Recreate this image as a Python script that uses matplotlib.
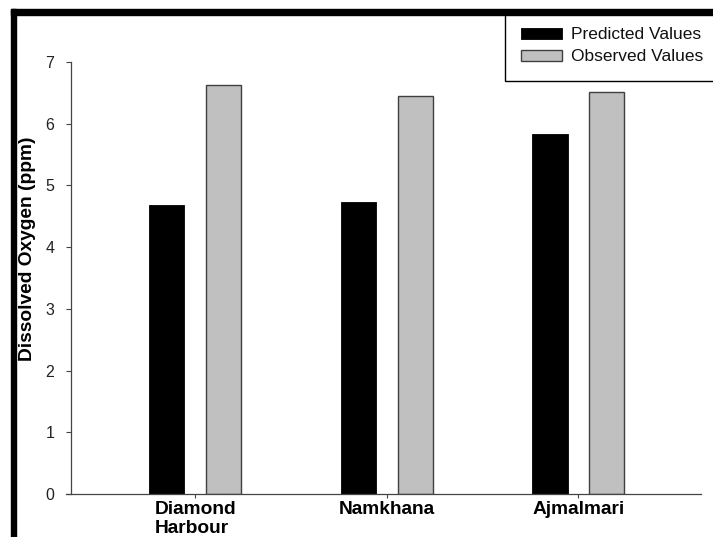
import matplotlib
matplotlib.use("Agg")
import matplotlib.pyplot as plt
from matplotlib.patches import Rectangle
import numpy as np

plt.rcParams['font.family'] = ['Liberation Sans', 'DejaVu Sans']

categories = ["Diamond\nHarbour", "Namkhana", "Ajmalmari"]
predicted = [4.68, 4.73, 5.83]
observed = [6.63, 6.45, 6.52]
series_names = ["Predicted Values", "Observed Values"]
yticks = [0, 1, 2, 3, 4, 5, 6, 7]

W, H = 713, 537
fig = plt.figure(figsize=(W / 100, H / 100), dpi=100)
ax = fig.add_axes([71 / W, 1 - 494 / H, 630 / W, 432 / H])

x = np.arange(len(categories))
bw = 0.183
off = 0.148
b1 = ax.bar(x - off, predicted, bw, color='black', edgecolor='black', linewidth=0.6,
            label=series_names[0])
b2 = ax.bar(x + off, observed, bw, color='#c0c0c0', edgecolor='#404040', linewidth=1.0,
            label=series_names[1])

ax.set_xlim(-0.648, 2.64)
ax.set_ylim(0, 7)
ax.set_yticks(yticks)
ax.set_yticklabels([str(t) for t in yticks], fontsize=11.5, color='#222222')
ax.set_xticks(x)
ax.set_xticklabels(categories, fontsize=13.8, fontweight='bold', linespacing=1.12,
                   multialignment='left')
ax.tick_params(axis='y', direction='out', length=3.6, width=0.8, color='#444444', pad=8.5)
ax.tick_params(axis='x', direction='out', length=3.0, width=0.8, color='#444444', pad=2)
for s in ['top', 'right']:
    ax.spines[s].set_visible(False)
for s in ['left', 'bottom']:
    ax.spines[s].set_color('#444444')
    ax.spines[s].set_linewidth(0.9)
ax.spines['bottom'].set_bounds(-0.648 - 5 / 191.6, 2.64)
ax.set_ylabel("Dissolved Oxygen (ppm)", fontsize=13.8, fontweight='bold')
ax.yaxis.set_label_coords((36 - 71) / 630, (494 - 249) / 432)

# outer black frame lines (top and left)
fig.patches.append(Rectangle((11 / W, 0), 5 / W, 1 - 9 / H, transform=fig.transFigure,
                             color='black', zorder=10))
fig.patches.append(Rectangle((11 / W, 1 - 15 / H), 1 - 11 / W, 6 / H, transform=fig.transFigure,
                             color='black', zorder=10))

leg = fig.legend(handles=[b1, b2], labels=series_names, loc='upper left',
                 bbox_to_anchor=(505 / W, 1 - 11 / H), borderaxespad=0, fontsize=12.5,
                 frameon=True, fancybox=False, edgecolor='black', framealpha=1,
                 handlelength=2.35, handleheight=0.65, handletextpad=0.5,
                 labelspacing=0.4, borderpad=0.95)
leg.set_zorder(5)
leg.get_frame().set_linewidth(1.0)
for t in leg.get_texts():
    t.set_color('#111111')

fig.savefig("out.png", dpi=100)
